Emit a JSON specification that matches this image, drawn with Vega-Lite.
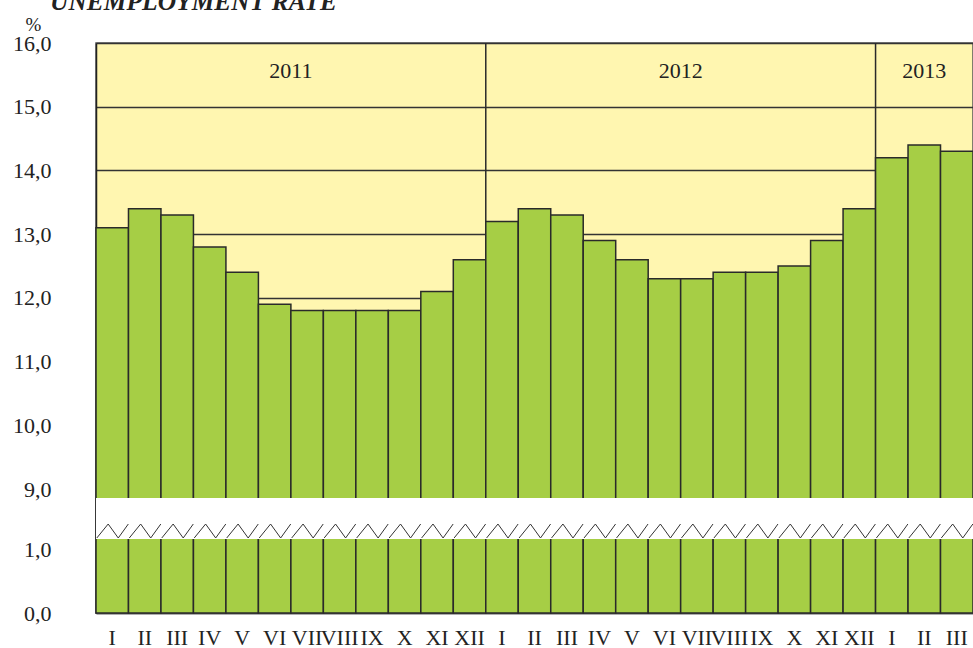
{
  "$schema": "https://vega.github.io/schema/vega-lite/v6.json",
  "width": 877,
  "height": 570,
  "autosize": {"type": "none"},
  "padding": {"left": 96, "top": 43, "right": 0, "bottom": 35},
  "background": "white",
  "title": {
    "text": "UNEMPLOYMENT RATE",
    "anchor": "start",
    "frame": "group",
    "dx": -46,
    "offset": -20,
    "baseline": "alphabetic",
    "font": "Liberation Serif",
    "fontSize": 25.5,
    "fontWeight": "bold",
    "fontStyle": "italic",
    "color": "#222222"
  },
  "config": {
    "view": {"fill": "#FFF6B0", "stroke": "#555555", "strokeWidth": 1.5}
  },
  "datasets": {
    "bars": [
      {"key": "2011-I", "year": "2011", "month": "I", "value": 13.1},
      {"key": "2011-II", "year": "2011", "month": "II", "value": 13.4},
      {"key": "2011-III", "year": "2011", "month": "III", "value": 13.3},
      {"key": "2011-IV", "year": "2011", "month": "IV", "value": 12.8},
      {"key": "2011-V", "year": "2011", "month": "V", "value": 12.4},
      {"key": "2011-VI", "year": "2011", "month": "VI", "value": 11.9},
      {"key": "2011-VII", "year": "2011", "month": "VII", "value": 11.8},
      {"key": "2011-VIII", "year": "2011", "month": "VIII", "value": 11.8},
      {"key": "2011-IX", "year": "2011", "month": "IX", "value": 11.8},
      {"key": "2011-X", "year": "2011", "month": "X", "value": 11.8},
      {"key": "2011-XI", "year": "2011", "month": "XI", "value": 12.1},
      {"key": "2011-XII", "year": "2011", "month": "XII", "value": 12.6},
      {"key": "2012-I", "year": "2012", "month": "I", "value": 13.2},
      {"key": "2012-II", "year": "2012", "month": "II", "value": 13.4},
      {"key": "2012-III", "year": "2012", "month": "III", "value": 13.3},
      {"key": "2012-IV", "year": "2012", "month": "IV", "value": 12.9},
      {"key": "2012-V", "year": "2012", "month": "V", "value": 12.6},
      {"key": "2012-VI", "year": "2012", "month": "VI", "value": 12.3},
      {"key": "2012-VII", "year": "2012", "month": "VII", "value": 12.3},
      {"key": "2012-VIII", "year": "2012", "month": "VIII", "value": 12.4},
      {"key": "2012-IX", "year": "2012", "month": "IX", "value": 12.4},
      {"key": "2012-X", "year": "2012", "month": "X", "value": 12.5},
      {"key": "2012-XI", "year": "2012", "month": "XI", "value": 12.9},
      {"key": "2012-XII", "year": "2012", "month": "XII", "value": 13.4},
      {"key": "2013-I", "year": "2013", "month": "I", "value": 14.2},
      {"key": "2013-II", "year": "2013", "month": "II", "value": 14.4},
      {"key": "2013-III", "year": "2013", "month": "III", "value": 14.3}
    ],
    "separators": [
      {"key": "2012-I"},
      {"key": "2013-I"}
    ],
    "yearsMid": [
      {"year": "2011", "key": "2011-VI"},
      {"year": "2012", "key": "2012-VI"}
    ],
    "yearsLast": [
      {"year": "2013", "key": "2013-II"}
    ],
    "breakBand": [
      {"band": "axis break"}
    ]
  },
  "encoding": {
    "x": {
      "field": "key",
      "type": "nominal",
      "scale": {
        "domain": ["2011-I","2011-II","2011-III","2011-IV","2011-V","2011-VI","2011-VII","2011-VIII","2011-IX","2011-X","2011-XI","2011-XII","2012-I","2012-II","2012-III","2012-IV","2012-V","2012-VI","2012-VII","2012-VIII","2012-IX","2012-X","2012-XI","2012-XII","2013-I","2013-II","2013-III"],
        "paddingInner": 0,
        "paddingOuter": 0
      },
      "axis": {
        "title": null,
        "labelExpr": "split(datum.value, '-')[1]",
        "labelAngle": 0,
        "ticks": false,
        "domain": true,
        "domainColor": "#555555",
        "domainWidth": 1.5,
        "labelPadding": 14,
        "labelFont": "Liberation Serif",
        "labelFontSize": 22,
        "labelColor": "#222222",
        "labelOverlap": false,
        "labelBound": false,
        "grid": false
      }
    },
    "y": {
      "type": "quantitative",
      "scale": {
        "domain": [0, 1, 2, 8, 9, 16],
        "range": [570, 506, 496, 455, 446, 0],
        "nice": false,
        "zero": false
      },
      "axis": {
        "title": "%",
        "titleAngle": 0,
        "titleX": -63,
        "titleY": -13,
        "titleAlign": "center",
        "titleBaseline": "alphabetic",
        "titleFont": "Liberation Serif",
        "titleFontSize": 19,
        "titleFontWeight": "normal",
        "titleColor": "#222222",
        "values": [0, 1, 9, 10, 11, 12, 13, 14, 15, 16],
        "labelExpr": "replace(format(datum.value, '.1f'), '.', ',')",
        "ticks": false,
        "domain": true,
        "domainColor": "#222222",
        "domainWidth": 1.5,
        "labelPadding": 45,
        "labelFont": "Liberation Serif",
        "labelFontSize": 22,
        "labelColor": "#222222",
        "labelOverlap": false,
        "labelBound": false,
        "grid": true,
        "gridColor": "#333333",
        "gridWidth": 1.3
      }
    }
  },
  "layer": [
    {
      "data": {"name": "separators"},
      "mark": {"type": "rule", "color": "#2a2a2a", "strokeWidth": 1.5},
      "encoding": {
        "x": {"field": "key", "type": "nominal", "bandPosition": 0},
        "y": {"datum": 16},
        "y2": {"datum": 9}
      }
    },
    {
      "data": {"name": "bars"},
      "mark": {"type": "bar", "fill": "#A6CE45", "stroke": "#2a2a2a", "strokeWidth": 1.5},
      "encoding": {
        "y": {"field": "value", "type": "quantitative"},
        "y2": {"datum": 0}
      }
    },
    {
      "data": {"name": "breakBand"},
      "mark": {"type": "rect", "fill": "white", "stroke": null},
      "encoding": {
        "x": null,
        "y": {"datum": 2},
        "y2": {"datum": 8}
      }
    },
    {
      "data": {"name": "bars"},
      "mark": {
        "type": "point",
        "shape": "M -0.95 0.43 L -0.25 -0.43 L 0.37 0.43 L 0.99 -0.43",
        "size": 1056,
        "filled": false,
        "stroke": "#333333",
        "strokeWidth": 1,
        "opacity": 1
      },
      "encoding": {
        "y": {"datum": 3.17}
      }
    },
    {
      "data": {"name": "yearsMid"},
      "mark": {"type": "text", "font": "Liberation Serif", "fontSize": 22, "color": "#222222", "baseline": "middle", "align": "center"},
      "encoding": {
        "x": {"field": "key", "type": "nominal", "bandPosition": 1},
        "y": {"datum": 15.56},
        "text": {"field": "year"}
      }
    },
    {
      "data": {"name": "yearsLast"},
      "mark": {"type": "text", "font": "Liberation Serif", "fontSize": 22, "color": "#222222", "baseline": "middle", "align": "center"},
      "encoding": {
        "x": {"field": "key", "type": "nominal", "bandPosition": 0.5},
        "y": {"datum": 15.56},
        "text": {"field": "year"}
      }
    }
  ]
}
